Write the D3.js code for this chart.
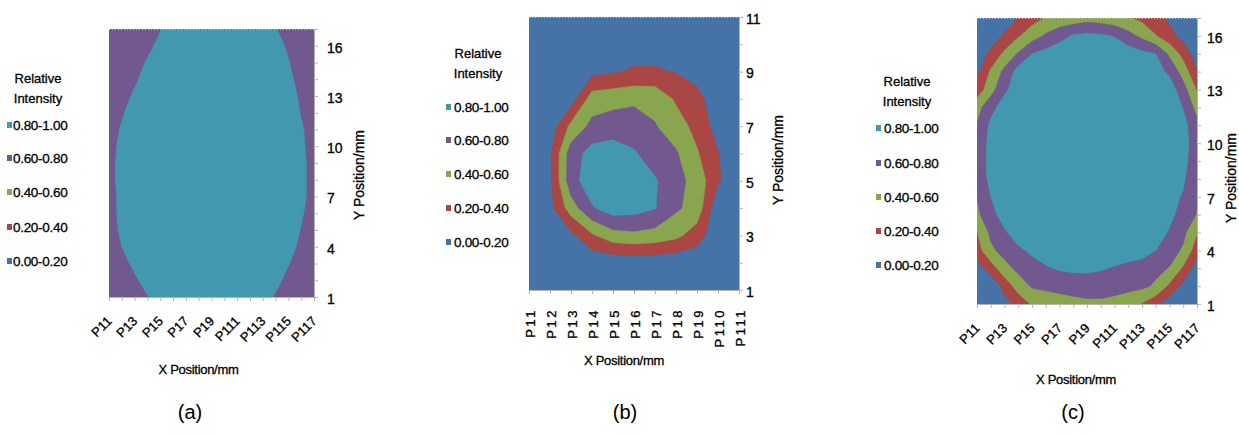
<!DOCTYPE html>
<html>
<head>
<meta charset="utf-8">
<script src="https://cdn.jsdelivr.net/npm/d3@7"></script>
<style>
  html, body { margin: 0; padding: 0; background: #fff; }
  svg { display: block; }
  text { font-family: "Liberation Sans", Arial, sans-serif; fill: #000; }
  .ink { stroke: #000; stroke-width: 0.3; }
</style>
</head>
<body>
<svg id="chart" width="1239" height="437"></svg>
<script>
// band definitions shared by all three panels
var bandThresholds = [0, 0.2, 0.4, 0.6, 0.8];
var bandColors = ['#4572A7', '#AA4643', '#89A54E', '#71588F', '#4198AF'];
var bandLabels = ['0.00-0.20', '0.20-0.40', '0.40-0.60', '0.60-0.80', '0.80-1.00'];

// categories (X) and Y ticks
var xCatsA = ['P11','P12','P13','P14','P15','P16','P17','P18','P19','P110','P111','P112','P113','P114','P115','P116','P117'];
var xCatsB = ['P11','P12','P13','P14','P15','P16','P17','P18','P19','P110','P111'];
var xCatsC = xCatsA;
var yTicksA = [1, 4, 7, 10, 13, 16];
var yTicksB = [1, 3, 5, 7, 9, 11];
var yTicksC = [1, 4, 7, 10, 13, 16];
var captions = ['(a)', '(b)', '(c)'];

// relative intensity grids, first row = top (highest Y), columns = X categories
var intensityA = [
  [0.65,0.65,0.65,0.69,0.79,0.89,0.95,0.95,0.95,0.95,0.95,0.95,0.91,0.81,0.71,0.65,0.65], // 17
  [0.65,0.65,0.65,0.75,0.85,0.95,0.95,0.95,0.95,0.95,0.95,0.95,0.95,0.87,0.77,0.67,0.65], // 16
  [0.65,0.65,0.72,0.82,0.92,0.95,0.95,0.95,0.95,0.95,0.95,0.95,0.95,0.91,0.81,0.71,0.65], // 15
  [0.65,0.67,0.77,0.87,0.95,0.95,0.95,0.95,0.95,0.95,0.95,0.95,0.95,0.94,0.84,0.74,0.65], // 14
  [0.65,0.73,0.83,0.93,0.95,0.95,0.95,0.95,0.95,0.95,0.95,0.95,0.95,0.95,0.87,0.77,0.67], // 13
  [0.68,0.78,0.88,0.95,0.95,0.95,0.95,0.95,0.95,0.95,0.95,0.95,0.95,0.95,0.90,0.79,0.70], // 12
  [0.72,0.82,0.92,0.95,0.95,0.95,0.95,0.95,0.95,0.95,0.95,0.95,0.95,0.95,0.92,0.82,0.72], // 11
  [0.74,0.84,0.94,0.95,0.95,0.95,0.95,0.95,0.95,0.95,0.95,0.95,0.95,0.95,0.93,0.83,0.73], // 10
  [0.75,0.85,0.95,0.95,0.95,0.95,0.95,0.95,0.95,0.95,0.95,0.95,0.95,0.95,0.94,0.84,0.74], // 9
  [0.75,0.85,0.95,0.95,0.95,0.95,0.95,0.95,0.95,0.95,0.95,0.95,0.95,0.95,0.94,0.84,0.74], // 8
  [0.74,0.84,0.94,0.95,0.95,0.95,0.95,0.95,0.95,0.95,0.95,0.95,0.95,0.95,0.94,0.84,0.74], // 7
  [0.74,0.84,0.94,0.95,0.95,0.95,0.95,0.95,0.95,0.95,0.95,0.95,0.95,0.95,0.92,0.82,0.72], // 6
  [0.73,0.83,0.93,0.95,0.95,0.95,0.95,0.95,0.95,0.95,0.95,0.95,0.95,0.95,0.90,0.79,0.70], // 5
  [0.70,0.80,0.90,0.95,0.95,0.95,0.95,0.95,0.95,0.95,0.95,0.95,0.95,0.95,0.86,0.76,0.66], // 4
  [0.65,0.74,0.84,0.94,0.95,0.95,0.95,0.95,0.95,0.95,0.95,0.95,0.95,0.91,0.81,0.71,0.65], // 3
  [0.65,0.67,0.77,0.87,0.95,0.95,0.95,0.95,0.95,0.95,0.95,0.95,0.95,0.85,0.75,0.65,0.65], // 2
  [0.65,0.65,0.69,0.79,0.89,0.95,0.95,0.95,0.95,0.95,0.95,0.95,0.88,0.78,0.68,0.65,0.65]  // 1
];

var intensityB = [
  [0.03,0.04,0.05,0.06,0.07,0.08,0.08,0.07,0.06,0.04,0.03], // 11
  [0.04,0.05,0.06,0.08,0.10,0.12,0.12,0.10,0.08,0.05,0.04], // 10
  [0.06,0.08,0.10,0.14,0.18,0.22,0.22,0.19,0.15,0.10,0.06], // 9
  [0.05,0.08,0.10,0.50,0.53,0.56,0.55,0.37,0.24,0.12,0.06], // 8
  [0.03,0.08,0.45,0.65,0.70,0.70,0.61,0.50,0.33,0.12,0.05], // 7
  [0.05,0.17,0.70,0.88,0.90,0.82,0.70,0.62,0.42,0.21,0.06], // 6
  [0.05,0.16,0.72,0.92,0.93,0.90,0.82,0.66,0.53,0.22,0.06], // 5
  [0.04,0.14,0.50,0.78,0.90,0.88,0.81,0.63,0.52,0.05,0.03], // 4
  [0.03,0.07,0.15,0.37,0.52,0.55,0.52,0.45,0.30,0.05,0.03], // 3
  [0.02,0.03,0.05,0.06,0.06,0.07,0.07,0.06,0.05,0.03,0.02], // 2
  [0.01,0.02,0.02,0.03,0.03,0.03,0.03,0.03,0.02,0.02,0.01]  // 1
];

var intensityC = [
  [0.05,0.05,0.08,0.20,0.32,0.41,0.45,0.48,0.52,0.50,0.46,0.42,0.35,0.26,0.16,0.07,0.05], // 17
  [0.05,0.08,0.23,0.38,0.51,0.63,0.74,0.82,0.85,0.83,0.79,0.67,0.55,0.41,0.27,0.13,0.05], // 16
  [0.06,0.25,0.44,0.62,0.80,0.86,0.90,0.92,0.92,0.92,0.92,0.90,0.85,0.80,0.56,0.33,0.08], // 15
  [0.14,0.43,0.65,0.88,0.92,0.93,0.94,0.95,0.95,0.95,0.95,0.94,0.93,0.88,0.76,0.51,0.22], // 14
  [0.28,0.52,0.76,0.90,0.93,0.94,0.95,0.95,0.95,0.95,0.95,0.95,0.94,0.93,0.90,0.68,0.38], // 13
  [0.53,0.73,0.90,0.93,0.94,0.95,0.96,0.96,0.96,0.96,0.96,0.96,0.95,0.94,0.92,0.79,0.53], // 12
  [0.61,0.84,0.92,0.94,0.95,0.96,0.96,0.97,0.97,0.97,0.97,0.96,0.96,0.95,0.93,0.87,0.65], // 11
  [0.64,0.87,0.93,0.95,0.96,0.96,0.97,0.97,0.97,0.97,0.97,0.97,0.96,0.96,0.94,0.89,0.67], // 10
  [0.65,0.88,0.93,0.95,0.96,0.97,0.97,0.97,0.97,0.97,0.97,0.97,0.96,0.96,0.94,0.87,0.65], // 9
  [0.64,0.86,0.92,0.94,0.95,0.96,0.96,0.97,0.97,0.97,0.97,0.96,0.96,0.95,0.93,0.83,0.63], // 8
  [0.60,0.80,0.88,0.92,0.94,0.95,0.96,0.96,0.96,0.96,0.96,0.95,0.94,0.92,0.87,0.78,0.62], // 7
  [0.56,0.73,0.89,0.92,0.93,0.94,0.95,0.95,0.95,0.95,0.95,0.94,0.93,0.90,0.85,0.72,0.59], // 6
  [0.39,0.64,0.77,0.91,0.93,0.94,0.95,0.95,0.95,0.95,0.95,0.94,0.93,0.90,0.78,0.65,0.41], // 5
  [0.31,0.56,0.67,0.76,0.84,0.89,0.92,0.93,0.93,0.93,0.93,0.91,0.90,0.80,0.69,0.57,0.29], // 4
  [0.10,0.30,0.53,0.65,0.72,0.78,0.82,0.84,0.84,0.82,0.78,0.74,0.69,0.65,0.59,0.37,0.09], // 3
  [0.02,0.04,0.27,0.49,0.62,0.65,0.67,0.68,0.69,0.69,0.68,0.66,0.64,0.57,0.36,0.13,0.05], // 2
  [0.02,0.03,0.13,0.27,0.42,0.46,0.50,0.54,0.56,0.56,0.53,0.48,0.39,0.25,0.08,0.04,0.02]  // 1
];

var svg = d3.select('#chart');

function drawPanel(id, grid, cats, yTicks, cfg) {
  var n = cats.length, m = grid.length;
  var yMin = 1, yMax = yMin + m - 1;
  var g = svg.append('g').attr('class', 'panel-' + id);

  var x = d3.scaleLinear().domain([0, n - 1]).range([cfg.left, cfg.right]);
  var xPoint = d3.scalePoint().domain(cats).range([cfg.left, cfg.right]);
  var y = d3.scaleLinear().domain([yMin, yMax]).range([cfg.bottom, cfg.top]);

  // clip to plot area
  svg.append('clipPath').attr('id', 'clip-' + id)
    .append('rect')
    .attr('x', cfg.left).attr('y', cfg.top)
    .attr('width', cfg.right - cfg.left).attr('height', cfg.bottom - cfg.top);

  // grid value i sits at contour coordinate i + 0.5
  var proj = d3.geoTransform({
    point: function(cx, cy) {
      this.stream.point(x(cx - 0.5), y(yMax - (cy - 0.5)));
    }
  });
  var path = d3.geoPath(proj);

  var contours = d3.contours()
    .size([n, m])
    .thresholds(bandThresholds)(d3.merge(grid));

  g.append('g')
    .attr('clip-path', 'url(#clip-' + id + ')')
    .selectAll('path')
    .data(contours)
    .enter()
    .append('path')
    .attr('d', path)
    .attr('fill', function(d, i) { return bandColors[i]; })
    .attr('stroke', function(d, i) { return bandColors[i]; })
    .attr('stroke-width', 0.6);

  // light dotted frame on top
  g.append('line')
    .attr('x1', cfg.left).attr('x2', cfg.right)
    .attr('y1', cfg.top + 0.5).attr('y2', cfg.top + 0.5)
    .attr('stroke', '#c8c8c8').attr('stroke-dasharray', '1,2');

  // bottom axis
  var xAxis = d3.axisBottom(xPoint).tickSize(4).tickFormat(function(d, i) {
    return i % cfg.xStep === 0 ? d : '';
  });
  var gx = g.append('g')
    .attr('transform', 'translate(0,' + cfg.bottom + ')')
    .call(xAxis);
  gx.select('.domain').attr('stroke', '#b4b4b4');
  gx.selectAll('.tick line').attr('stroke', '#b4b4b4');
  gx.selectAll('.tick text')
    .attr('class', 'ink')
    .attr('font-size', 13)
    .attr('fill', '#000')
    .attr('text-anchor', 'end')
    .attr('letter-spacing', cfg.xRotate === -90 ? 2.5 : 0)
    .attr('y', 0).attr('dy', 0)
    .attr('transform', function() {
      return cfg.xRotate === -90
        ? 'translate(5,18) rotate(-90)'
        : 'translate(3,25) rotate(-45)';
    });

  // right axis
  var yAxis = d3.axisRight(y)
    .tickValues(d3.range(yMin, yMax + 1))
    .tickSize(4)
    .tickFormat(function(d) { return yTicks.indexOf(d) >= 0 ? d : ''; });
  var gy = g.append('g')
    .attr('transform', 'translate(' + cfg.right + ',0)')
    .call(yAxis);
  gy.select('.domain').attr('stroke', '#b4b4b4');
  gy.selectAll('.tick line').attr('stroke', '#b4b4b4');
  gy.selectAll('.tick text')
    .attr('class', 'ink')
    .attr('font-size', 14)
    .attr('fill', '#000')
    .attr('x', cfg.yLabelX - cfg.right)
    .attr('dy', '0.45em');

  // axis titles
  g.append('text')
    .attr('class', 'ink')
    .attr('x', (cfg.left + cfg.right) / 2 + cfg.xTitleDx)
    .attr('y', cfg.xTitleY)
    .attr('text-anchor', 'middle')
    .attr('font-size', 13)
    .attr('letter-spacing', -0.3)
    .text('X Position/mm');
  g.append('text')
    .attr('class', 'ink')
    .attr('transform', 'translate(' + cfg.yTitleX + ',' + cfg.yTitleY + ') rotate(-90)')
    .attr('text-anchor', 'middle')
    .attr('font-size', 14)
    .text('Y Position/mm');

  // legend
  var lg = g.append('g');
  lg.append('text').attr('class', 'ink').attr('x', cfg.legTitleX).attr('y', cfg.legTitleY)
    .attr('text-anchor', 'middle').attr('font-size', 13)
    .text('Relative');
  lg.append('text').attr('class', 'ink').attr('x', cfg.legTitleX).attr('y', cfg.legTitleY + 20)
    .attr('text-anchor', 'middle').attr('font-size', 13)
    .text('Intensity');
  var order = d3.range(bandLabels.length).reverse();
  var items = lg.selectAll('g.item')
    .data(order)
    .enter()
    .append('g')
    .attr('class', 'item')
    .attr('transform', function(d, i) { return 'translate(' + cfg.legX + ',' + cfg.legY[i] + ')'; });
  items.append('rect')
    .attr('x', 0).attr('y', -3).attr('width', 5).attr('height', 6)
    .attr('fill', function(d) { return bandColors[d]; });
  items.append('text')
    .attr('class', 'ink')
    .attr('x', cfg.legTextDx).attr('y', 0).attr('dy', '0.38em')
    .attr('font-size', 13.5).attr('letter-spacing', -0.3)
    .text(function(d) { return bandLabels[d]; });

  // caption
  svg.append('text')
    .attr('x', cfg.captionX).attr('y', 419)
    .attr('text-anchor', 'middle')
    .attr('font-family', '"Open Sans", sans-serif')
    .attr('font-size', 20)
    .text(captions[id]);
}

drawPanel(0, intensityA, xCatsA, yTicksA, {
  left: 109, right: 314, top: 29, bottom: 297, xStep: 2, xRotate: -45,
  yLabelX: 327, xTitleDx: -13, xTitleY: 374, yTitleX: 364, yTitleY: 175,
  legTitleX: 38, legTitleY: 83, legX: 7, legY: [125, 158, 192, 227, 261], legTextDx: 6,
  captionX: 190
});
drawPanel(1, intensityB, xCatsB, yTicksB, {
  left: 529, right: 739, top: 17, bottom: 290, xStep: 1, xRotate: -90,
  yLabelX: 746, xTitleDx: -10, xTitleY: 365, yTitleX: 783, yTitleY: 160,
  legTitleX: 478, legTitleY: 58, legX: 446, legY: [107, 140, 174, 208, 242], legTextDx: 8,
  captionX: 625
});
drawPanel(2, intensityC, xCatsC, yTicksC, {
  left: 977, right: 1197, top: 18, bottom: 304, xStep: 2, xRotate: -45,
  yLabelX: 1207, xTitleDx: -11, xTitleY: 384, yTitleX: 1236, yTitleY: 178,
  legTitleX: 907, legTitleY: 86, legX: 876, legY: [128, 163, 197, 231, 265], legTextDx: 8,
  captionX: 1073
});
</script>
</body>
</html>
